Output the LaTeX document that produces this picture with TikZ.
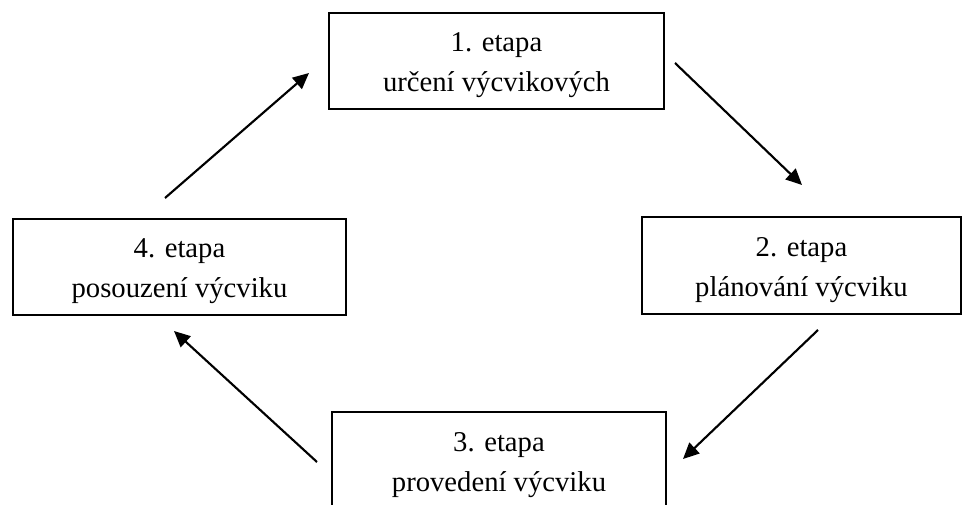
\documentclass[tikz,border=0pt]{standalone}
\usepackage{fontspec}
\setmainfont{Liberation Serif}
\usetikzlibrary{arrows.meta}
\newcommand{\toplift}{\rule{0pt}{21pt}}
\begin{document}
\begin{tikzpicture}[x=0.75pt,y=-0.75pt,
  stage/.style={draw=black,line width=1.5pt,rectangle,align=center,
    font=\fontsize{21.5}{30}\selectfont,inner sep=0pt},
  flow/.style={line width=1.6pt,-{Triangle[length=12pt,width=11pt]}}]
\useasboundingbox (0,0) rectangle (964,505);
\fill[white] (0,0) rectangle (964,505);
\node[stage,minimum width=335*0.75pt,minimum height=96*0.75pt] (s1) at (496.5,61) {\toplift 1. etapa\\určení výcvikových};
\node[stage,minimum width=319*0.75pt,minimum height=97*0.75pt] (s2) at (801.5,265.5) {\toplift 2. etapa\\plánování výcviku};
\node[stage,minimum width=334*0.75pt,minimum height=98*0.75pt] (s3) at (499,461) {\toplift 3. etapa\\provedení výcviku};
\node[stage,minimum width=333*0.75pt,minimum height=96*0.75pt] (s4) at (179.5,267) {\toplift 4. etapa\\posouzení výcviku};
\coordinate (a1) at (165,198); \coordinate (a2) at (309,73);
\coordinate (b1) at (675,63);  \coordinate (b2) at (802,185);
\coordinate (c1) at (818,330); \coordinate (c2) at (683,459);
\coordinate (d1) at (317,462); \coordinate (d2) at (174,331);
\draw[flow] (a1) -- (a2);
\draw[flow] (b1) -- (b2);
\draw[flow] (c1) -- (c2);
\draw[flow] (d1) -- (d2);
\end{tikzpicture}
\end{document}
